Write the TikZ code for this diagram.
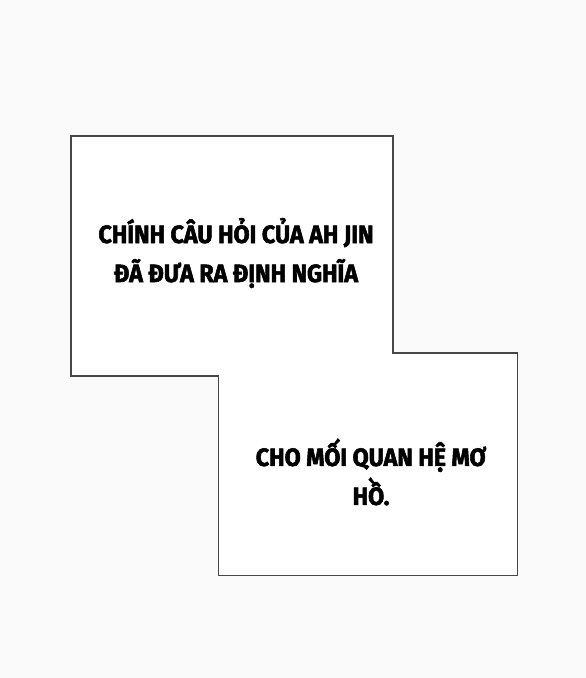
\documentclass[tikz,border=0pt]{standalone}
\usepackage{fontspec}
\newfontfamily\capfont{Fira Sans}[FakeStretch=0.93, BoldFeatures={FakeBold=2.2}]
\usetikzlibrary{positioning}
\tikzstyle{panel} = [draw=black!72, line width=1.6pt, fill=white, line join=miter]
\tikzstyle{capText} = [text=black, align=center, font=\capfont\bfseries\fontsize{25}{39}\selectfont]

\begin{document}
\begin{tikzpicture}[x=1pt, y=-1pt]
    \fill [black!2] (0,0) rectangle (586,678);
    \useasboundingbox (0,0) rectangle (586,678);

    % the two panels, drawn as one outline
    \draw [panel] (70.7,135.7) -- (392.7,135.7) -- (392.7,352.7) -- (517.3,352.7)
        -- (517.3,575.3) -- (218.3,575.3) -- (218.3,376) -- (70.7,376) -- cycle;

    \node (top) [capText] at (236,253) {CHÍNH CÂU HỎI CỦA AH JIN\\ĐÃ ĐƯA RA ĐỊNH NGHĨA};
    \node (bottom) [capText] at (371,472) {CHO MỐI QUAN HỆ MƠ\\HỒ.};
\end{tikzpicture}
\end{document}
